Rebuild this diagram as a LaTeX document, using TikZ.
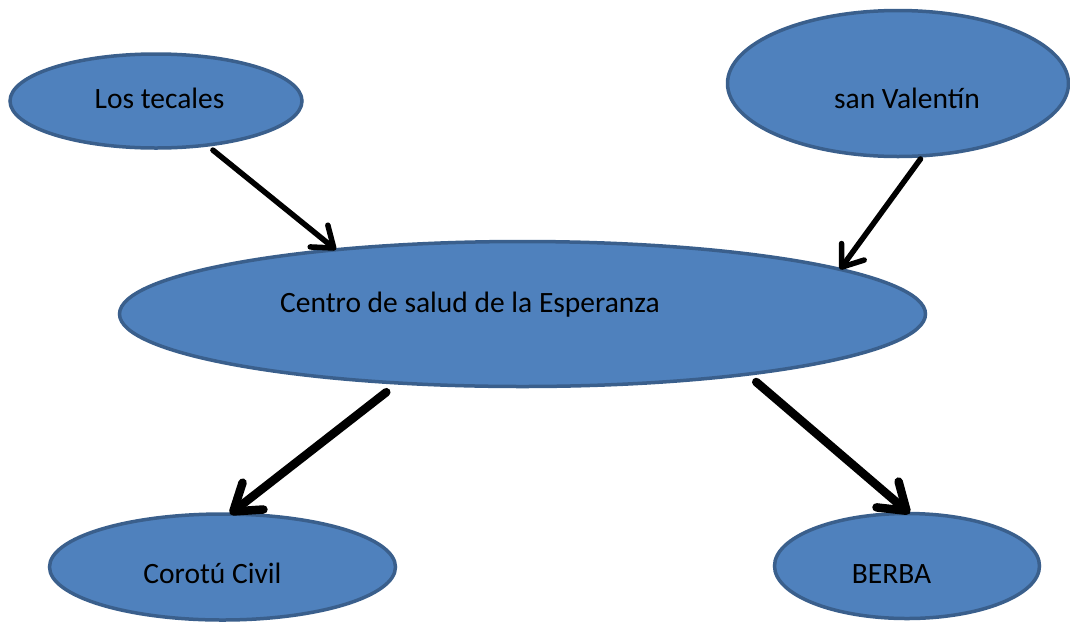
\documentclass[tikz,border=0pt]{standalone}
\usepackage{fontspec}
\setmainfont{Carlito}
\usetikzlibrary{shapes.geometric,arrows.meta}
\definecolor{bubblefill}{HTML}{4F81BD}
\definecolor{bubbleline}{HTML}{3A5F8C}
\tikzset{
  bubble/.style={ellipse, draw=bubbleline, fill=bubblefill, line width=3.5pt, inner sep=0pt, outer sep=0pt},
  lbl/.style={anchor=base, inner sep=0pt, font=\fontsize{29.5}{31}\selectfont, text=black},
  thinarrow/.style={line width=5.5pt, line cap=round, -{Straight Barb[length=19pt,width=28pt,round]}},
  thickarrow/.style={line width=8.5pt, line cap=round, -{Straight Barb[length=25pt,width=34pt,round]}}
}
\begin{document}
\begin{tikzpicture}[x=1pt, y=-1pt]
\useasboundingbox (0,0) rectangle (1070,622);
\clip (0,0) rectangle (1070,622);
\node[bubble, minimum width=292pt, minimum height=94pt] (los) at (156,101) {};
\node[bubble, minimum width=341pt, minimum height=146pt] (san) at (898,83.5) {};
\node[bubble, minimum width=806pt, minimum height=145pt] (centro) at (522.5,314) {};
\node[bubble, minimum width=346pt, minimum height=106pt] (coro) at (222.5,567) {};
\node[bubble, minimum width=265pt, minimum height=105pt] (berba) at (907,566) {};
\node[lbl] (tlos) at (159.5,108) {Los tecales};
\node[lbl] (tsan) at (907,108) {san Valentín};
\node[lbl] (tcentro) at (470,312) {Centro de salud de la Esperanza};
\node[lbl] (tcoro) at (212.5,583) {Corotú Civil};
\node[lbl] (tberba) at (891.5,583) {BERBA};
\draw[thinarrow, shorten <=8pt] (los.-41.3) -- (centro.161.5);
\draw[thinarrow, shorten <=4pt] (san.-71.2) -- (centro.8.55);
\draw[thickarrow, shorten <=15pt] (centro.-151.9) -- (coro.82.5);
\draw[thickarrow, shorten <=12pt] (centro.-15.1) -- (berba.87);
\end{tikzpicture}
\end{document}
